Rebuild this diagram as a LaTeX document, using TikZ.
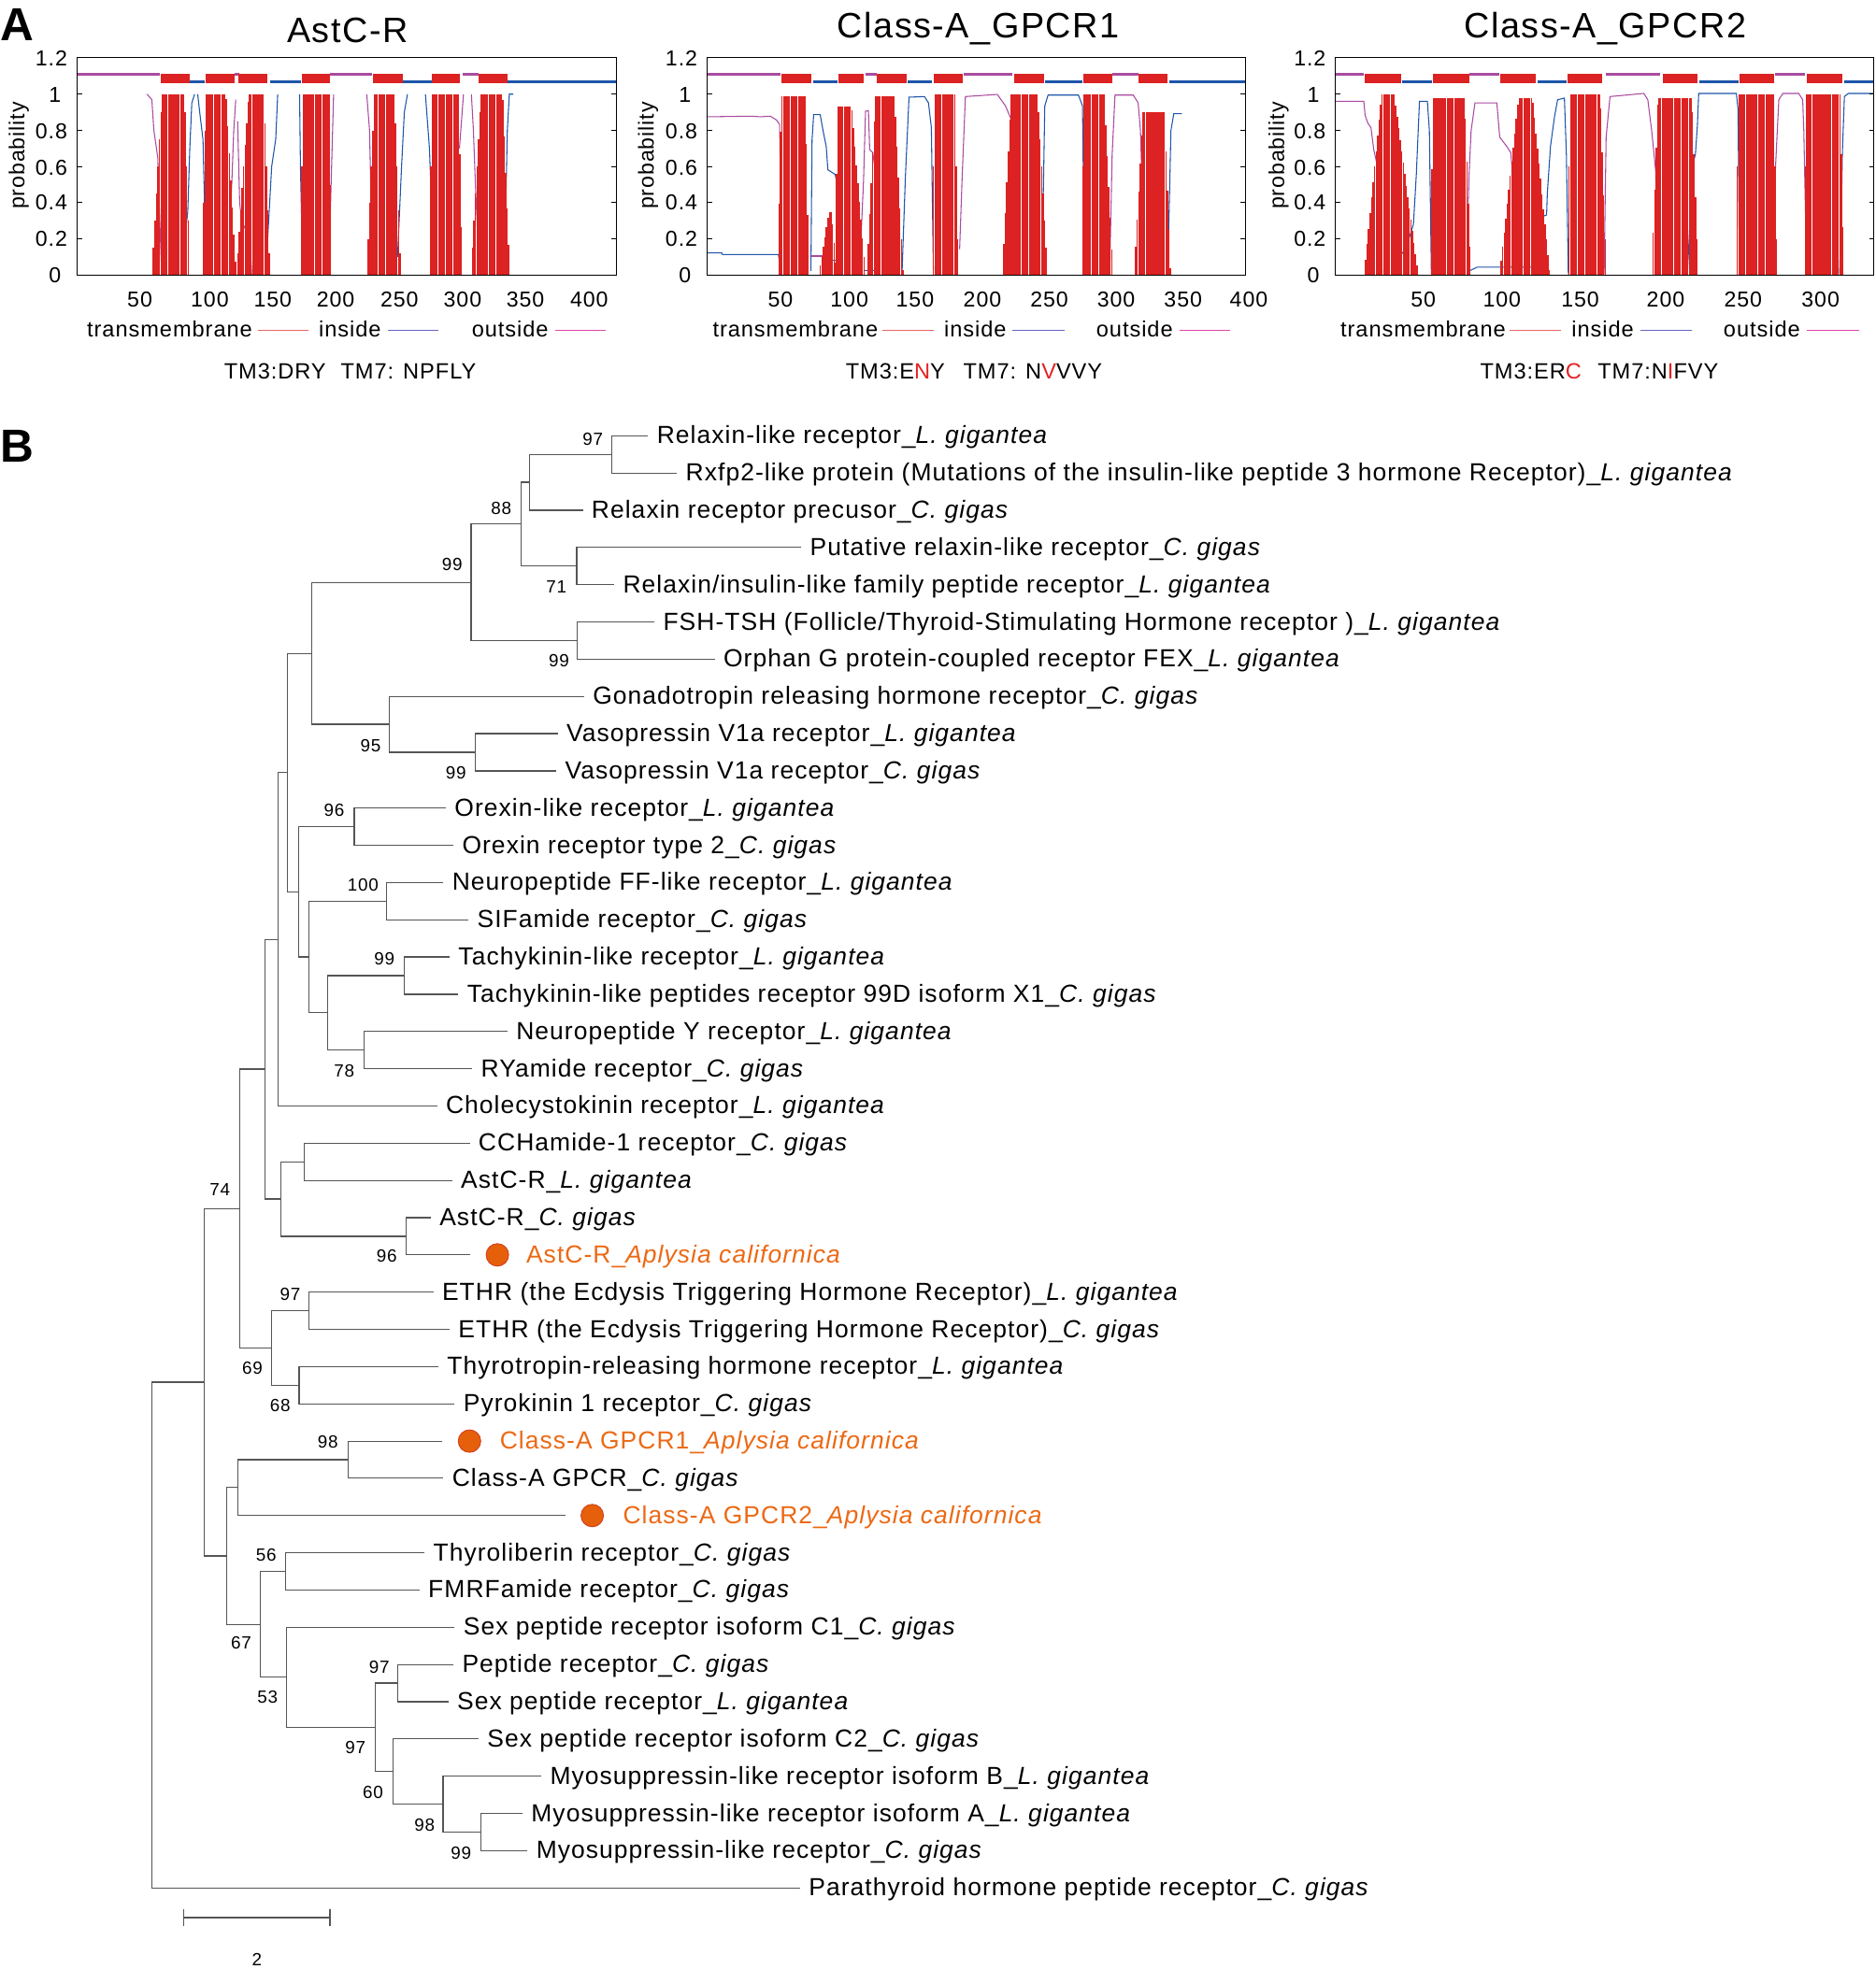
\documentclass[tikz,border=0pt]{standalone}
\usepackage{fontspec}
\setmainfont{Liberation Sans}[LetterSpace=4]
\definecolor{tmred}{RGB}{220,34,34}
\definecolor{inblue}{RGB}{30,85,170}
\definecolor{outmag}{RGB}{170,75,160}
\definecolor{legred}{RGB}{232,100,100}
\definecolor{legblue}{RGB}{100,100,190}
\definecolor{legmag}{RGB}{225,70,170}
\definecolor{motred}{RGB}{225,35,35}
\definecolor{orng}{RGB}{236,105,20}
\definecolor{dotfill}{RGB}{230,95,10}
\definecolor{dotdraw}{RGB}{205,50,30}
\definecolor{treeline}{RGB}{85,85,85}
\tikzset{
  axisline/.style={draw=black, line width=0.5pt},
  tmbarline/.style={draw=tmred, line width=0.62pt},
  incurve/.style={draw=inblue, line width=0.45pt},
  outcurve/.style={draw=outmag, line width=0.45pt},
  inbar/.style={draw=inblue, line width=0.044cm},
  outbar/.style={draw=outmag, line width=0.044cm},
  tmbox/.style={fill=tmred},
  ptitle/.style={font=\fontsize{16}{18}\selectfont, anchor=base, inner sep=0pt},
  ylab/.style={font=\fontsize{9.8}{11}\selectfont, anchor=east, inner sep=0pt, text height=0.72em, text depth=0pt},
  xlab/.style={font=\fontsize{9.8}{11}\selectfont, anchor=base, inner sep=0pt},
  plab/.style={font=\fontsize{9.8}{11}\selectfont, rotate=90, inner sep=0pt},
  leglab/.style={font=\fontsize{10}{12}\selectfont, anchor=base west, inner sep=0pt},
  legline/.style={line width=0.5pt},
  motif/.style={font=\fontsize{10}{12}\selectfont, anchor=base west, inner sep=0pt},
  panel/.style={font=\fontsize{21}{24}\selectfont\bfseries, inner sep=0pt},
  br/.style={draw=treeline, line width=0.5pt},
  leaf/.style={anchor=west, inner xsep=0.14cm, inner ysep=0pt, outer sep=0pt,
     font=\fontsize{11.2}{13}\selectfont, text height=0.72em, text depth=0pt},
  oleaf/.style={leaf, text=orng},
  bs/.style={font=\fontsize{8}{9}\selectfont, inner sep=0pt, text height=0.72em, text depth=0pt},
  tdot/.style={circle, fill=dotfill, draw=dotdraw, line width=0.3pt, minimum size=0.36cm, inner sep=0pt, outer sep=0.25cm},
}
\newcommand\tmbar[5]{%
  \pgfmathsetmacro\tmstep{#1+1.2}%
  \foreach \xx in {#1,\tmstep,...,#4}{%
    \pgfmathsetmacro\tmh{#5*max(0,min(1,min((\xx-#1)/(#2-#1+0.001),(#4-\xx)/(#4-#3+0.001))))}%
    \draw[tmbarline] (\xx,219) -- (\xx,{219-144*\tmh});
  }%
}
\newcommand\plotframe[3]{% left, right, prefix
  \foreach \yy in {75,104,133,161,190}{%
    \draw[axisline] (#1,\yy) -- ++(4,0);
    \draw[axisline] (#2,\yy) -- ++(-4,0);
  }
  \draw[axisline] (#1,46) rectangle (#2,219);
  \foreach \v/\yy/\dx [count=\k] in {1.2/46/7.5, 1/75/12.5, 0.8/104/7.5, 0.6/133/7.5, 0.4/161/7.5, 0.2/190/7.5, 0/219/12.5}
    \node[ylab] (#3y\k) at (#1-\dx,\yy) {\v};
}
\begin{document}
\begin{tikzpicture}[x=0.02cm,y=-0.02cm]
\fill[white] (0,0) rectangle (1493,1568);
\useasboundingbox (0,0) rectangle (1493,1568);

% ================= PANEL A =================
\node[panel] (pA) at (14,20) {A};

% ---------- plot 1 : AstC-R ----------
\node[ptitle] (t1) at (276.7,33.5) {AstC-R};
\node[plab] (pl1) at (15,124) {probability};
\draw[outcurve] (117.0,75)--(120.9,79.3)--(122.5,103.8)--(125.6,125.4)--(127.2,175.8)--(128.8,219);
\draw[incurve] (144.7,211.8)--(149.5,168.6)--(151.1,118.2)--(152.7,82.2)--(154.9,75);
\draw[incurve] (157.4,75)--(159.0,89.4)--(161.6,111)--(162.8,161.4)--(163.8,219);
\draw[outcurve] (182.9,175.8)--(184.5,147)--(186.1,103.8)--(187.7,79.3);
\draw[outcurve] (189.2,96.6)--(190.8,161.4)--(192.4,175.8)--(198.8,190.2)--(200.4,219);
\draw[incurve] (213.1,190.2)--(216.3,132.6)--(219.5,111)--(221.1,75);
\draw[incurve] (238.5,75)--(239.2,132.6)--(240.8,204.6);
\draw[outcurve] (262.4,190.2)--(264,132.6)--(265.6,75);
\draw[outcurve] (292,75)--(294.2,103.8)--(295.8,175.8)--(297.4,219);
\draw[incurve] (316.5,204.6)--(319.7,132.6)--(321.9,89.4)--(324.4,75);
\draw[incurve] (338.7,75)--(341.9,118.2)--(343.5,161.4)--(345.1,219);
\draw[outcurve] (365.8,118.2)--(369,75);
\draw[outcurve] (375.3,75)--(376.9,103.8)--(378.5,147)--(381,204.6);
\draw[incurve] (402.4,175.8)--(403.9,103.8)--(405.5,75)--(408.7,75);
\tmbar{121}{129}{147}{151}{1}
\tmbar{161}{164}{180}{188}{1}
\tmbar{188}{198}{210}{215}{1}
\tmbar{239}{241}{262}{264}{1}
\tmbar{292}{298}{314}{319}{1}
\tmbar{342}{344}{365}{368}{1}
\tmbar{375}{383}{400}{406}{1}
\draw[outbar] (61.4,59)--(127.2,59);
\draw[inbar] (151,65)--(163.2,65);
\draw[outbar] (186.7,59)--(190.2,59);
\draw[inbar] (214.7,65)--(239.8,65);
\draw[outbar] (262.7,59)--(296.1,59);
\draw[inbar] (320.6,65)--(343.5,65);
\draw[outbar] (368,59)--(380.7,59);
\draw[inbar] (404,65)--(490.8,65);
\foreach \a/\b in {128/151,164/187,190/213,240.5/263,297/321,344/366,381/404}
  \fill[tmbox] (\a,58.8) rectangle (\b,66.2);
\plotframe{61.4}{490.8}{pa}
\foreach \v/\xx [count=\k] in {50/111.3,100/167,150/217.2,200/267.2,250/318,300/368.3,350/418.3,400/469.1}
  \node[xlab] (pax\k) at (\xx,244.4) {\v};
\node[leglab] (pal1) at (69,268) {transmembrane};
\draw[legline, draw=legred] (205.2,263) -- (245.5,263);
\node[leglab] (pal2) at (253.5,268) {inside};
\draw[legline, draw=legblue] (309.2,263) -- (349.2,263);
\node[leglab] (pal3) at (375.3,268) {outside};
\draw[legline, draw=legmag] (442.1,263) -- (482.5,263);
\node[motif] (pam1) at (178.1,301.4) {TM3:DRY};
\node[motif] (pam2) at (271,301.4) {TM7: NPFLY};

% ---------- plot 2 : Class-A_GPCR1 ----------
\node[ptitle] (t2) at (778.9,30.3) {Class-A\_GPCR1};
\node[plab] (pl2) at (516,124) {probability};
\draw[outcurve] (563.3,93)--(598.8,92.5)--(605.2,93)--(613.3,92.5)--(618.1,95.5)--(620.7,99.2)--(621.4,148.8)--(622.3,218.3);
\draw[incurve] (563.3,201.4)--(574.6,201.4)--(575.2,202.7)--(619.7,202.7)--(621.4,213.3)--(622.3,218.3);
\draw[incurve] (645.6,215.8)--(646.5,111.6)--(647.8,91.3)--(653,91.3)--(655.3,104.2)--(657.8,116.6)--(659.1,135.2)--(664.9,138.9)--(665.9,143.9)--(666.5,218.3);
\draw[outcurve] (684.3,215.8)--(687.5,143.9)--(689.1,88.6)--(691.4,88.1)--(692.4,119.1)--(694.9,121.6)--(697.2,138.9)--(698.8,215.8);
\draw[incurve] (718.2,215.8)--(720.8,141.4)--(723.7,77.4)--(736,76.9)--(739.2,81.9)--(741.5,101.7)--(743.1,215.8);
\draw[outcurve] (764,198.5)--(766,141.4)--(768.6,76.9)--(794,75.2)--(800.5,84.3)--(804.7,94.3)--(807,215.8);
\draw[incurve] (829.6,215.8)--(831.8,84.3)--(834.4,75.7)--(858.6,75.7)--(861.8,84.3)--(863.4,215.8);
\draw[outcurve] (883.5,215.8)--(885.4,124)--(887.7,75.7)--(902.2,75.7)--(906.1,81.9)--(908,104.2)--(911.2,213.3);
\draw[incurve] (929.6,215.8)--(931.2,151.3)--(932.2,104.2)--(934.5,90.5)--(940.9,90.5);
\draw[outcurve] (645.6,203.9)--(656.9,203.9);
\draw[incurve] (656.9,207.1)--(666.5,207.1);
\draw[incurve] (687.5,215.3)--(697.2,215.3);
\draw[outcurve] (913.5,204.9)--(923.2,204.9);
\tmbar{619}{622}{641}{644}{0.99}
\tmbar{652}{660}{662}{666}{0.35}
\tmbar{665}{667}{678}{689}{0.93}
\tmbar{690}{697}{712}{719}{0.99}
\tmbar{742}{744}{760}{763}{1}
\tmbar{798}{805}{826}{834}{1}
\tmbar{861}{863}{879}{886}{1}
\tmbar{903}{910}{927}{932}{0.9}
\draw[outbar] (563.3,59)--(621.4,59);
\draw[inbar] (647.2,65)--(666.5,65);
\draw[outbar] (689.1,59)--(697.9,59);
\draw[inbar] (722.7,65)--(742.1,65);
\draw[outbar] (767.6,59)--(806,59);
\draw[inbar] (832.1,65)--(861.8,65);
\draw[outbar] (885.4,59)--(906.1,59);
\draw[inbar] (931.2,65)--(991.5,65);
\foreach \a/\b in {622.3/646.2,667.2/687.9,698.2/722.1,743.7/766.6,807.6/831.2,862.5/885.4,906.7/929.6}
  \fill[tmbox] (\a,58.8) rectangle (\b,66.2);
\plotframe{563}{991.5}{pb}
\foreach \v/\xx [count=\k] in {50/621.4,100/676.2,150/728.5,200/782.1,250/835.4,300/888.6,350/941.9,400/994.2}
  \node[xlab] (pbx\k) at (\xx,244.4) {\v};
\node[leglab] (pbl1) at (567.1,268) {transmembrane};
\draw[legline, draw=legred] (702.7,263) -- (743.4,263);
\node[leglab] (pbl2) at (751.4,268) {inside};
\draw[legline, draw=legblue] (806,263) -- (847.3,263);
\node[leglab] (pbl3) at (872.5,268) {outside};
\draw[legline, draw=legmag] (939.3,263) -- (979.6,263);
\node[motif] (pbm1) at (673,301.4) {TM3:E\textcolor{motred}{N}Y};
\node[motif] (pbm2) at (766.6,301.4) {TM7: N\textcolor{motred}{V}VVY};

% ---------- plot 3 : Class-A_GPCR2 ----------
\node[ptitle] (t3) at (1278,30.3) {Class-A\_GPCR2};
\node[plab] (pl3) at (1018,124) {probability};
\draw[outcurve] (1063.1,80.6)--(1085.8,80.6)--(1086.8,91.8)--(1089,98)--(1091.5,101.7)--(1093.7,119.1)--(1095.9,129)--(1097.8,161.3)--(1099.1,186.1)--(1100.4,218.3);
\draw[incurve] (1113.6,218.3)--(1114.9,203.4)--(1119,198.5)--(1122.2,188.5)--(1125.3,178.6)--(1127.6,138.9)--(1130.1,80.6)--(1136.4,80.6)--(1138,104.2)--(1139.6,218.3);
\draw[outcurve] (1168,198.5)--(1169.6,138.9)--(1171.2,104.2)--(1174.3,81.9)--(1191.7,81.9)--(1194,109.2)--(1199.6,116.6)--(1202.8,121.6)--(1206,158.8)--(1208.5,218.3);
\draw[incurve] (1223.4,218.3)--(1224.3,173.7)--(1231.3,171.2)--(1231.9,153.8)--(1234.4,116.6)--(1237.6,93)--(1240.1,79.4)--(1245.5,78.1)--(1247.1,124)--(1248.6,218.3);
\draw[outcurve] (1277.1,218.3)--(1278.7,109.2)--(1281.8,76.9)--(1308.7,74.4)--(1311.9,79.4)--(1315,104.2)--(1318.2,136.4)--(1319.8,218.3);
\draw[incurve] (1343.5,215.8)--(1346.6,153.8)--(1348.2,129)--(1349.8,122.8)--(1351.4,99.2)--(1352.4,74.4)--(1382.4,74.4)--(1383.7,86.8)--(1384.9,218.3);
\draw[outcurve] (1412.1,218.3)--(1413.4,136.4)--(1416.2,79.4)--(1419.4,74.4)--(1432,74.4)--(1435.2,79.4)--(1436.1,104.2)--(1438.3,213.3);
\draw[incurve] (1464.6,218.3)--(1465.9,173.7)--(1466.8,121.6)--(1468.4,76.9)--(1471.5,74.4)--(1491.5,74.4);
\draw[incurve] (1169.6,215.8)--(1175.9,212.8)--(1221.8,212.8);
\tmbar{1086}{1100}{1110}{1129}{1}
\tmbar{1139}{1141}{1166}{1171}{0.98}
\tmbar{1194}{1209}{1220}{1234}{0.98}
\tmbar{1248}{1250}{1274}{1279}{1}
\tmbar{1315}{1320}{1347}{1352}{0.98}
\tmbar{1382}{1384}{1412}{1415}{1}
\tmbar{1436}{1438}{1465}{1468}{1}
\draw[outbar] (1063.1,59)--(1085.8,59);
\draw[inbar] (1116.5,65)--(1140.2,65);
\draw[outbar] (1170.2,59)--(1193.3,59);
\draw[inbar] (1224,65)--(1247.1,65);
\draw[outbar] (1278.4,59)--(1321.7,59);
\draw[inbar] (1352.7,65)--(1384,65);
\draw[outbar] (1413.4,59)--(1436.7,59);
\draw[inbar] (1468,65)--(1491.5,65);
\foreach \a/\b in {1086.8/1115.2,1141.1/1169.6,1194.6/1222.7,1248/1275.8,1323.9/1351.4,1384.6/1412.4,1438.6/1466.8}
  \fill[tmbox] (\a,58.8) rectangle (\b,66.2);
\plotframe{1063.3}{1492}{pc}
\foreach \v/\xx [count=\k] in {50/1133.2,100/1195.8,150/1258.1,200/1326.1,250/1387.8,300/1449.4}
  \node[xlab] (pcx\k) at (\xx,244.4) {\v};
\node[leglab] (pcl1) at (1066.9,268) {transmembrane};
\draw[legline, draw=legred] (1202.2,263) -- (1243,263);
\node[leglab] (pcl2) at (1250.9,268) {inside};
\draw[legline, draw=legblue] (1305.9,263) -- (1347,263);
\node[leglab] (pcl3) at (1371.9,268) {outside};
\draw[legline, draw=legmag] (1438.3,263) -- (1480.1,263);
\node[motif] (pcm1) at (1178.1,301.4) {TM3:ER\textcolor{motred}{C}};
\node[motif] (pcm2) at (1271.7,301.4) {TM7:N\textcolor{motred}{I}FVY};

% ================= PANEL B =================
\node[panel] (pB) at (14,355) {B};

\node[leaf] (l1) at (516,347) {Relaxin-like receptor\_\textit{L. gigantea}};
\node[leaf] (l2) at (539,376.7) {Rxfp2-like protein (Mutations of the insulin-like peptide 3 hormone Receptor)\_\textit{L. gigantea}};
\node[leaf] (l3) at (464,406.3) {Relaxin receptor precusor\_\textit{C. gigas}};
\node[leaf] (l4) at (638,436) {Putative relaxin-like receptor\_\textit{C. gigas}};
\node[leaf] (l5) at (489,465.6) {Relaxin/insulin-like family peptide receptor\_\textit{L. gigantea}};
\node[leaf] (l6) at (521,495.3) {FSH-TSH (Follicle/Thyroid-Stimulating Hormone receptor )\_\textit{L. gigantea}};
\node[leaf] (l7) at (569,524.9) {Orphan G protein-coupled receptor FEX\_\textit{L. gigantea}};
\node[leaf] (l8) at (465,554.6) {Gonadotropin releasing hormone receptor\_\textit{C. gigas}};
\node[leaf] (l9) at (444,584.2) {Vasopressin V1a receptor\_\textit{L. gigantea}};
\node[leaf] (l10) at (443,613.9) {Vasopressin V1a receptor\_\textit{C. gigas}};
\node[leaf] (l11) at (355,643.5) {Orexin-like receptor\_\textit{L. gigantea}};
\node[leaf] (l12) at (361,673.2) {Orexin receptor type 2\_\textit{C. gigas}};
\node[leaf] (l13) at (353,702.8) {Neuropeptide FF-like receptor\_\textit{L. gigantea}};
\node[leaf] (l14) at (373,732.5) {SIFamide receptor\_\textit{C. gigas}};
\node[leaf] (l15) at (358,762.1) {Tachykinin-like receptor\_\textit{L. gigantea}};
\node[leaf] (l16) at (365,791.8) {Tachykinin-like peptides receptor 99D isoform X1\_\textit{C. gigas}};
\node[leaf] (l17) at (404,821.4) {Neuropeptide Y receptor\_\textit{L. gigantea}};
\node[leaf] (l18) at (376,851.1) {RYamide receptor\_\textit{C. gigas}};
\node[leaf] (l19) at (348,880.7) {Cholecystokinin receptor\_\textit{L. gigantea}};
\node[leaf] (l20) at (374,910.4) {CCHamide-1 receptor\_\textit{C. gigas}};
\node[leaf] (l21) at (360,940) {AstC-R\_\textit{L. gigantea}};
\node[leaf] (l22) at (343,969.7) {AstC-R\_\textit{C. gigas}};
\node[tdot] (d23) at (396,999.3) {};
\node[oleaf] (l23) at (412,999.3) {AstC-R\_\textit{Aplysia californica}};
\node[leaf] (l24) at (345,1029) {ETHR (the Ecdysis Triggering Hormone Receptor)\_\textit{L. gigantea}};
\node[leaf] (l25) at (358,1058.6) {ETHR (the Ecdysis Triggering Hormone Receptor)\_\textit{C. gigas}};
\node[leaf] (l26) at (349,1088.3) {Thyrotropin-releasing hormone receptor\_\textit{L. gigantea}};
\node[leaf] (l27) at (362,1117.9) {Pyrokinin 1 receptor\_\textit{C. gigas}};
\node[tdot] (d28) at (373.8,1147.6) {};
\node[oleaf] (l28) at (391,1147.6) {Class-A GPCR1\_\textit{Aplysia californica}};
\node[leaf] (l29) at (353,1177.2) {Class-A GPCR\_\textit{C. gigas}};
\node[tdot] (d30) at (471.5,1206.9) {};
\node[oleaf] (l30) at (489,1206.9) {Class-A GPCR2\_\textit{Aplysia californica}};
\node[leaf] (l31) at (338,1236.5) {Thyroliberin receptor\_\textit{C. gigas}};
\node[leaf] (l32) at (334,1266.2) {FMRFamide receptor\_\textit{C. gigas}};
\node[leaf] (l33) at (362,1295.8) {Sex peptide receptor isoform C1\_\textit{C. gigas}};
\node[leaf] (l34) at (361,1325.5) {Peptide receptor\_\textit{C. gigas}};
\node[leaf] (l35) at (357,1355.1) {Sex peptide receptor\_\textit{L. gigantea}};
\node[leaf] (l36) at (381,1384.8) {Sex peptide receptor isoform C2\_\textit{C. gigas}};
\node[leaf] (l37) at (431,1414.4) {Myosuppressin-like receptor isoform B\_\textit{L. gigantea}};
\node[leaf] (l38) at (416,1444.1) {Myosuppressin-like receptor isoform A\_\textit{L. gigantea}};
\node[leaf] (l39) at (420,1473.7) {Myosuppressin-like receptor\_\textit{C. gigas}};
\node[leaf] (l40) at (637,1503.4) {Parathyroid hormone peptide receptor\_\textit{C. gigas}};

\coordinate (n97a) at (487.3,361.8);
\coordinate (nA) at (421.5,384);
\coordinate (nB) at (459.1,450.8);
\coordinate (n88) at (414.9,417.4);
\coordinate (nFSH) at (459.5,510.1);
\coordinate (n99a) at (375,463.7);
\coordinate (nVaso) at (378.7,599);
\coordinate (n95) at (310.2,576.8);
\coordinate (nX) at (248,520.3);
\coordinate (nOrx) at (282,658.3);
\coordinate (nNPFF) at (307.9,717.6);
\coordinate (nTac) at (321.8,776.9);
\coordinate (nNPY) at (289.6,836.2);
\coordinate (nTN) at (261,806.6);
\coordinate (nNT) at (246,762.1);
\coordinate (nOx2) at (237.8,710.2);
\coordinate (nY) at (228.8,615.3);
\coordinate (nCCK) at (221.2,748);
\coordinate (nCCH) at (242.1,925.2);
\coordinate (nAst) at (323.5,984.5);
\coordinate (nAst2) at (223.8,954.8);
\coordinate (nZ) at (211.2,851.4);
\coordinate (nETHR) at (246.1,1043.8);
\coordinate (nTRH) at (238.1,1103.1);
\coordinate (n69) at (216.2,1073.4);
\coordinate (n74) at (190.6,962.4);
\coordinate (nG1) at (277,1162.4);
\coordinate (nG) at (189.6,1184.6);
\coordinate (n56) at (227.1,1251.3);
\coordinate (nPep) at (316.8,1340.3);
\coordinate (nMy99) at (382.6,1458.9);
\coordinate (nMy98) at (352.7,1436.6);
\coordinate (n60) at (312.9,1410.7);
\coordinate (n97b) at (298.6,1375.5);
\coordinate (n53) at (227.8,1335.7);
\coordinate (n67) at (207.2,1293.5);
\coordinate (nH) at (180.6,1239);
\coordinate (nI) at (162.3,1100.7);
\coordinate (root) at (120.8,1302);

\draw[br] (l1.west) -| (n97a) |- (l2.west);
\draw[br] (n97a) -| (nA) |- (l3.west);
\draw[br] (l4.west) -| (nB) |- (l5.west);
\draw[br] (nA) -| (n88) |- (nB);
\draw[br] (l6.west) -| (nFSH) |- (l7.west);
\draw[br] (n88) -| (n99a) |- (nFSH);
\draw[br] (l9.west) -| (nVaso) |- (l10.west);
\draw[br] (l8.west) -| (n95) |- (nVaso);
\draw[br] (n99a) -| (nX) |- (n95);
\draw[br] (l11.west) -| (nOrx) |- (l12.west);
\draw[br] (l13.west) -| (nNPFF) |- (l14.west);
\draw[br] (l15.west) -| (nTac) |- (l16.west);
\draw[br] (l17.west) -| (nNPY) |- (l18.west);
\draw[br] (nTac) -| (nTN) |- (nNPY);
\draw[br] (nNPFF) -| (nNT) |- (nTN);
\draw[br] (nOrx) -| (nOx2) |- (nNT);
\draw[br] (nX) -| (nY) |- (nOx2);
\draw[br] (nY) -| (nCCK) |- (l19.west);
\draw[br] (l20.west) -| (nCCH) |- (l21.west);
\draw[br] (l22.west) -| (nAst) |- (d23.west);
\draw[br] (nCCH) -| (nAst2) |- (nAst);
\draw[br] (nCCK) -| (nZ) |- (nAst2);
\draw[br] (l24.west) -| (nETHR) |- (l25.west);
\draw[br] (l26.west) -| (nTRH) |- (l27.west);
\draw[br] (nETHR) -| (n69) |- (nTRH);
\draw[br] (nZ) -| (n74) |- (n69);
\draw[br] (d28.west) -| (nG1) |- (l29.west);
\draw[br] (nG1) -| (nG) |- (d30.west);
\draw[br] (l31.west) -| (n56) |- (l32.west);
\draw[br] (l34.west) -| (nPep) |- (l35.west);
\draw[br] (l38.west) -| (nMy99) |- (l39.west);
\draw[br] (l37.west) -| (nMy98) |- (nMy99);
\draw[br] (l36.west) -| (n60) |- (nMy98);
\draw[br] (nPep) -| (n97b) |- (n60);
\draw[br] (l33.west) -| (n53) |- (n97b);
\draw[br] (n56) -| (n67) |- (n53);
\draw[br] (nG) -| (nH) |- (n67);
\draw[br] (n74) -| (nI) |- (nH);
\draw[br] (nI) -| (root) |- (l40.west);

\node[bs] (b1) at (472,348) {97};
\node[bs] (b2) at (399,403) {88};
\node[bs] (b3) at (360,448) {99};
\node[bs] (b4) at (443,466) {71};
\node[bs] (b5) at (445,525) {99};
\node[bs] (b6) at (295,592) {95};
\node[bs] (b7) at (363,614) {99};
\node[bs] (b8) at (266,644) {96};
\node[bs] (b9) at (289,703) {100};
\node[bs] (b10) at (306,762) {99};
\node[bs] (b11) at (274,851) {78};
\node[bs] (b12) at (175,946) {74};
\node[bs] (b13) at (308,999) {96};
\node[bs] (b14) at (231,1029) {97};
\node[bs] (b15) at (201,1088) {69};
\node[bs] (b16) at (223,1118) {68};
\node[bs] (b17) at (261,1147) {98};
\node[bs] (b18) at (212,1237) {56};
\node[bs] (b19) at (192,1307) {67};
\node[bs] (b20) at (213,1350) {53};
\node[bs] (b21) at (302,1326) {97};
\node[bs] (b22) at (283,1390) {97};
\node[bs] (b23) at (297,1426) {60};
\node[bs] (b24) at (338,1452) {98};
\node[bs] (b25) at (367,1474) {99};

\coordinate (sb1) at (146.4,1527);
\coordinate (sb2) at (262.7,1527);
\draw[br] (sb1) -- (sb2);
\draw[br] ([yshift=-0.14cm]sb1) -- ([yshift=0.14cm]sb1);
\draw[br] ([yshift=-0.14cm]sb2) -- ([yshift=0.14cm]sb2);
\node[bs] (sbl) at (204.5,1559) {2};
\end{tikzpicture}
\end{document}
